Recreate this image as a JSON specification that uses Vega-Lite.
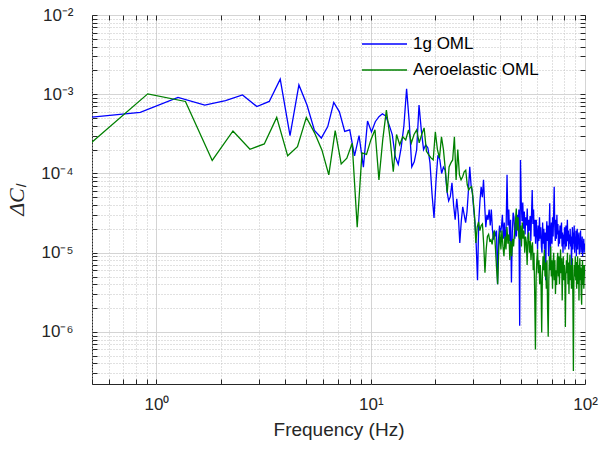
{
"$schema":"https://vega.github.io/schema/vega-lite/v6.json",
"width":493,"height":369,
"autosize":"none",
"padding":{"left":92,"top":15,"right":28,"bottom":75},
"background":"white",
"config":{"view":{"stroke":"#262626","strokeWidth":1},"axis":{"labelFont":"Liberation Sans","titleFont":"Liberation Sans","labelColor":"#262626","titleColor":"#262626"}},
"datasets":{
"blue":[{"f":0.42,"v":4.9e-4},{"f":0.84,"v":5.9e-4},{"f":1.26,"v":9.1e-4},{"f":1.68,"v":7.3e-4},{"f":2.1,"v":8.3e-4},{"f":2.52,"v":9.8e-4},{"f":2.94,"v":7.0e-4},{"f":3.36,"v":8.1e-4},{"f":3.78,"v":1.55e-3},{"f":4.2,"v":3.0e-4},{"f":4.62,"v":1.31e-3},{"f":5.04,"v":7.3e-4},{"f":5.46,"v":3.5e-4},{"f":5.88,"v":2.8e-4},{"f":6.3,"v":3.9e-4},{"f":6.72,"v":7.9e-4},{"f":7.14,"v":6.0e-4},{"f":7.56,"v":3.4e-4},{"f":7.98,"v":3.55e-4},{"f":8.4,"v":1.67e-4},{"f":8.82,"v":3.0e-4},{"f":9.24,"v":1.2e-4},{"f":9.66,"v":4.6e-4},{"f":10.08,"v":3.35e-4},{"f":10.5,"v":4.5e-4},{"f":10.92,"v":5.2e-4},{"f":11.34,"v":5.65e-4},{"f":11.76,"v":5.3e-4},{"f":12.18,"v":4.1e-4},{"f":12.6,"v":3.1e-4},{"f":13.02,"v":1.62e-4},{"f":13.44,"v":1.3e-4},{"f":13.86,"v":2.1e-4},{"f":14.28,"v":4.0e-4},{"f":14.7,"v":1.17e-3},{"f":15.12,"v":4.5e-4},{"f":15.54,"v":1.21e-4},{"f":15.96,"v":1.4e-4},{"f":16.38,"v":2.0e-4},{"f":16.8,"v":7.3e-4},{"f":17.22,"v":3.5e-4},{"f":17.64,"v":2.0e-4},{"f":18.06,"v":2.3e-4},{"f":18.48,"v":2.1e-4},{"f":18.9,"v":1.36e-4},{"f":19.32,"v":5.5e-5},{"f":19.74,"v":2.75e-5},{"f":20.16,"v":8.0e-5},{"f":20.58,"v":1.7e-4},{"f":21.0,"v":1.5e-4},{"f":21.42,"v":1.0e-4},{"f":21.84,"v":1.2e-4},{"f":22.26,"v":1.1e-4},{"f":22.68,"v":6.0e-5},{"f":23.1,"v":4.5e-5},{"f":23.52,"v":5.1e-5},{"f":23.94,"v":7.6e-5},{"f":24.36,"v":4.0e-5},{"f":24.78,"v":2.6e-5},{"f":25.2,"v":4.8e-5},{"f":25.62,"v":3.0e-5},{"f":26.04,"v":1.33e-5},{"f":26.46,"v":2.5e-5},{"f":26.88,"v":3.8e-5},{"f":27.3,"v":3.0e-5},{"f":27.72,"v":2.4e-5},{"f":28.14,"v":3.3e-5},{"f":28.56,"v":6.0e-5},{"f":28.98,"v":1.21e-4},{"f":29.4,"v":7.0e-5},{"f":29.82,"v":5.7e-5},{"f":30.24,"v":3.5e-5},{"f":30.66,"v":2.4e-5},{"f":31.08,"v":1.2e-5},{"f":31.5,"v":4.5e-6},{"f":31.92,"v":2.5e-5},{"f":32.34,"v":4.5e-5},{"f":32.76,"v":6.8e-5},{"f":33.18,"v":5.0e-5},{"f":33.6,"v":8.3e-5},{"f":34.02,"v":4.0e-5},{"f":34.44,"v":2.1e-5},{"f":34.86,"v":3.0e-5},{"f":35.28,"v":2.6e-5},{"f":35.7,"v":3.5e-5},{"f":36.12,"v":2.2e-5},{"f":36.54,"v":3.5e-5},{"f":36.96,"v":2.0e-5},{"f":37.38,"v":1.46e-5},{"f":37.8,"v":1.9e-5},{"f":38.22,"v":1.6e-5},{"f":38.64,"v":1.9e-5},{"f":39.06,"v":4.0e-6},{"f":39.48,"v":1.46e-5},{"f":39.9,"v":2.2e-5},{"f":40.32,"v":1.8e-5},{"f":40.74,"v":2.1e-5},{"f":41.16,"v":3.0e-5},{"f":41.58,"v":1.5e-5},{"f":42.0,"v":2.4e-5},{"f":42.42,"v":1.3e-5},{"f":42.84,"v":2.1e-5},{"f":43.26,"v":9.6e-5},{"f":43.68,"v":2.2e-5},{"f":44.1,"v":3.5e-5},{"f":44.52,"v":1.4e-5},{"f":44.94,"v":2.6e-5},{"f":45.36,"v":4.2e-6},{"f":45.78,"v":1.8e-5},{"f":46.2,"v":3.2e-5},{"f":46.62,"v":2.8e-5},{"f":47.04,"v":1.5e-5},{"f":47.46,"v":2.5e-5},{"f":47.88,"v":1.6e-5},{"f":48.3,"v":3.0e-5},{"f":48.72,"v":2.0e-5},{"f":49.14,"v":3.5e-5},{"f":49.56,"v":1.2e-6},{"f":49.98,"v":1.48e-4},{"f":50.4,"v":4.5e-5},{"f":50.82,"v":2.5e-5},{"f":51.24,"v":4.3e-5},{"f":51.66,"v":2.0e-5},{"f":52.08,"v":3.3e-5},{"f":52.5,"v":1.7e-5},{"f":52.92,"v":2.8e-5},{"f":53.34,"v":2.2e-5},{"f":53.76,"v":3.6e-5},{"f":54.18,"v":1.5e-5},{"f":54.6,"v":2.6e-5},{"f":55.02,"v":1.9e-5},{"f":55.44,"v":2.9e-5},{"f":55.86,"v":1.4e-5},{"f":56.28,"v":3.0e-5},{"f":56.7,"v":6.2e-5},{"f":57.12,"v":2.3e-5},{"f":57.54,"v":3.5e-5},{"f":57.96,"v":1.6e-5},{"f":58.38,"v":2.6e-5},{"f":58.8,"v":1.3e-5},{"f":59.22,"v":2.6e-5},{"f":59.64,"v":1.8e-5},{"f":60.06,"v":1.1e-5},{"f":60.48,"v":2.2e-5},{"f":60.9,"v":1.4e-5},{"f":61.32,"v":2.8e-5},{"f":61.74,"v":1.5e-5},{"f":62.16,"v":2.1e-5},{"f":62.58,"v":1.2e-5},{"f":63.0,"v":1.0e-5},{"f":63.42,"v":2.4e-5},{"f":63.84,"v":1.3e-5},{"f":64.26,"v":2.0e-5},{"f":64.68,"v":1.1e-5},{"f":65.1,"v":1.8e-5},{"f":65.52,"v":4.5e-6},{"f":65.94,"v":1.6e-5},{"f":66.36,"v":2.5e-5},{"f":66.78,"v":1.4e-5},{"f":67.2,"v":2.2e-5},{"f":67.62,"v":9.0e-6},{"f":68.04,"v":2.0e-5},{"f":68.46,"v":4.2e-5},{"f":68.88,"v":9.0e-6},{"f":69.3,"v":1.7e-5},{"f":69.72,"v":2.4e-5},{"f":70.14,"v":1.3e-5},{"f":70.56,"v":2.8e-5},{"f":70.98,"v":1.6e-5},{"f":71.4,"v":3.2e-5},{"f":71.82,"v":6.8e-5},{"f":72.24,"v":2.2e-5},{"f":72.66,"v":1.4e-5},{"f":73.08,"v":2.6e-5},{"f":73.5,"v":1.5e-5},{"f":73.92,"v":3.0e-5},{"f":74.34,"v":1.7e-5},{"f":74.76,"v":2.3e-5},{"f":75.18,"v":1.2e-5},{"f":75.6,"v":1.9e-5},{"f":76.02,"v":1.3e-5},{"f":76.44,"v":2.2e-5},{"f":76.86,"v":1.5e-5},{"f":77.28,"v":2.0e-5},{"f":77.7,"v":2.4e-5},{"f":78.12,"v":1.2e-5},{"f":78.54,"v":1.8e-5},{"f":78.96,"v":1.0e-5},{"f":79.38,"v":1.7e-5},{"f":79.8,"v":1.3e-5},{"f":80.22,"v":2.1e-5},{"f":80.64,"v":1.1e-5},{"f":81.06,"v":1.6e-5},{"f":81.48,"v":2.2e-5},{"f":81.9,"v":1.2e-5},{"f":82.32,"v":1.8e-5},{"f":82.74,"v":2.6e-5},{"f":83.16,"v":1.4e-5},{"f":83.58,"v":1.9e-5},{"f":84.0,"v":1.1e-5},{"f":84.42,"v":1.7e-5},{"f":84.84,"v":1.3e-5},{"f":85.26,"v":2.0e-5},{"f":85.68,"v":1.2e-5},{"f":86.1,"v":1.6e-5},{"f":86.52,"v":6.6e-6},{"f":86.94,"v":1.5e-5},{"f":87.36,"v":2.1e-5},{"f":87.78,"v":1.1e-5},{"f":88.2,"v":1.8e-5},{"f":88.62,"v":1.3e-5},{"f":89.04,"v":2.2e-5},{"f":89.46,"v":1.0e-5},{"f":89.88,"v":1.6e-5},{"f":90.3,"v":1.2e-5},{"f":90.72,"v":1.9e-5},{"f":91.14,"v":9.0e-6},{"f":91.56,"v":1.5e-5},{"f":91.98,"v":2.0e-5},{"f":92.4,"v":1.1e-5},{"f":92.82,"v":1.7e-5},{"f":93.24,"v":1.3e-5},{"f":93.66,"v":1.8e-5},{"f":94.08,"v":9.5e-6},{"f":94.5,"v":1.5e-5},{"f":94.92,"v":1.2e-5},{"f":95.34,"v":1.9e-5},{"f":95.76,"v":1.0e-5},{"f":96.18,"v":1.4e-5},{"f":96.6,"v":1.1e-5},{"f":97.02,"v":1.6e-5},{"f":97.44,"v":9.0e-6},{"f":97.86,"v":1.4e-5},{"f":98.28,"v":1.1e-5},{"f":98.7,"v":1.5e-5},{"f":99.12,"v":1.0e-5},{"f":99.54,"v":1.3e-5},{"f":99.96,"v":1.2e-5}],
"green":[{"f":0.455,"v":2.0e-4},{"f":0.91,"v":1.01e-3},{"f":1.365,"v":8.1e-4},{"f":1.82,"v":1.46e-4},{"f":2.275,"v":3.44e-4},{"f":2.73,"v":2.02e-4},{"f":3.185,"v":2.36e-4},{"f":3.64,"v":5.1e-4},{"f":4.095,"v":1.67e-4},{"f":4.55,"v":2.18e-4},{"f":5.005,"v":5.1e-4},{"f":5.46,"v":3.28e-4},{"f":5.915,"v":1.98e-4},{"f":6.37,"v":9.6e-5},{"f":6.825,"v":3.47e-4},{"f":7.28,"v":1.32e-4},{"f":7.735,"v":1.56e-4},{"f":8.19,"v":2.41e-4},{"f":8.645,"v":2.1e-5},{"f":9.1,"v":1.82e-4},{"f":9.555,"v":1.74e-4},{"f":10.01,"v":2.65e-4},{"f":10.465,"v":3.55e-4},{"f":10.92,"v":8.3e-5},{"f":11.375,"v":2.65e-4},{"f":11.83,"v":6.3e-4},{"f":12.285,"v":2.9e-4},{"f":12.74,"v":1.05e-4},{"f":13.195,"v":3.1e-4},{"f":13.65,"v":2.3e-4},{"f":14.105,"v":2.9e-4},{"f":14.56,"v":2.65e-4},{"f":15.015,"v":3.55e-4},{"f":15.47,"v":2.43e-4},{"f":15.925,"v":3.1e-4},{"f":16.38,"v":3.55e-4},{"f":16.835,"v":2.43e-4},{"f":17.29,"v":3.1e-4},{"f":17.745,"v":3.76e-4},{"f":18.2,"v":1.9e-4},{"f":18.655,"v":1.72e-4},{"f":19.11,"v":1.57e-4},{"f":19.565,"v":1.48e-4},{"f":20.02,"v":3.35e-4},{"f":20.475,"v":2.0e-4},{"f":20.93,"v":1.57e-4},{"f":21.385,"v":2.9e-4},{"f":21.84,"v":2.0e-4},{"f":22.295,"v":1.11e-4},{"f":22.75,"v":5.7e-5},{"f":23.205,"v":1.21e-4},{"f":23.66,"v":1.36e-4},{"f":24.115,"v":1.48e-4},{"f":24.57,"v":2.9e-4},{"f":25.025,"v":8.3e-5},{"f":25.48,"v":2.0e-4},{"f":25.935,"v":9.6e-5},{"f":26.39,"v":8.3e-5},{"f":26.845,"v":9.1e-5},{"f":27.3,"v":1.05e-4},{"f":27.755,"v":1.1e-4},{"f":28.21,"v":7.2e-5},{"f":28.665,"v":6.2e-5},{"f":29.12,"v":6.6e-5},{"f":29.575,"v":6.8e-5},{"f":30.03,"v":4.8e-5},{"f":30.485,"v":3.0e-5},{"f":30.94,"v":1.33e-5},{"f":31.395,"v":2.1e-5},{"f":31.85,"v":2.45e-5},{"f":32.305,"v":1.9e-5},{"f":32.76,"v":2.2e-5},{"f":33.215,"v":2.3e-5},{"f":33.67,"v":1.27e-5},{"f":34.125,"v":5.6e-6},{"f":34.58,"v":1.1e-5},{"f":35.035,"v":1.6e-5},{"f":35.49,"v":1.7e-5},{"f":35.945,"v":1.4e-5},{"f":36.4,"v":1.46e-5},{"f":36.855,"v":1.27e-5},{"f":37.31,"v":1.7e-5},{"f":37.765,"v":1.9e-5},{"f":38.22,"v":1.1e-5},{"f":38.675,"v":6.2e-6},{"f":39.13,"v":4.0e-6},{"f":39.585,"v":1.1e-5},{"f":40.04,"v":1.9e-5},{"f":40.495,"v":1.1e-5},{"f":40.95,"v":1.9e-5},{"f":41.405,"v":1.2e-5},{"f":41.86,"v":9.0e-6},{"f":42.315,"v":1.6e-5},{"f":42.77,"v":1.1e-5},{"f":43.225,"v":2.1e-5},{"f":43.68,"v":1.3e-5},{"f":44.135,"v":1.7e-5},{"f":44.59,"v":8.1e-6},{"f":45.045,"v":1.4e-5},{"f":45.5,"v":9.0e-6},{"f":45.955,"v":1.5e-5},{"f":46.41,"v":1.2e-5},{"f":46.865,"v":1.8e-5},{"f":47.32,"v":2.4e-5},{"f":47.775,"v":3.6e-5},{"f":48.23,"v":1.9e-5},{"f":48.685,"v":2.8e-5},{"f":49.14,"v":1.6e-5},{"f":49.595,"v":1.46e-5},{"f":50.05,"v":2.2e-5},{"f":50.505,"v":1.2e-5},{"f":50.96,"v":2.4e-5},{"f":51.415,"v":1.5e-5},{"f":51.87,"v":1.9e-5},{"f":52.325,"v":1.0e-5},{"f":52.78,"v":1.6e-5},{"f":53.235,"v":1.35e-5},{"f":53.69,"v":7.0e-6},{"f":54.145,"v":1.5e-5},{"f":54.6,"v":1.8e-5},{"f":55.055,"v":1.0e-5},{"f":55.51,"v":1.4e-5},{"f":55.965,"v":8.1e-6},{"f":56.42,"v":1.2e-5},{"f":56.875,"v":1.35e-5},{"f":57.33,"v":6.0e-6},{"f":57.785,"v":1.0e-5},{"f":58.24,"v":3.0e-6},{"f":58.695,"v":6.0e-7},{"f":59.15,"v":5.0e-6},{"f":59.605,"v":8.1e-6},{"f":60.06,"v":1.1e-5},{"f":60.515,"v":5.5e-6},{"f":60.97,"v":8.0e-6},{"f":61.425,"v":4.0e-6},{"f":61.88,"v":7.0e-6},{"f":62.335,"v":4.2e-6},{"f":62.79,"v":9.8e-7},{"f":63.245,"v":5.0e-6},{"f":63.7,"v":9.0e-6},{"f":64.155,"v":6.0e-6},{"f":64.61,"v":1.1e-5},{"f":65.065,"v":5.0e-6},{"f":65.52,"v":7.5e-6},{"f":65.975,"v":3.5e-6},{"f":66.43,"v":8.0e-6},{"f":66.885,"v":2.0e-6},{"f":67.34,"v":8.7e-7},{"f":67.795,"v":4.5e-6},{"f":68.25,"v":9.0e-6},{"f":68.705,"v":6.0e-6},{"f":69.16,"v":1.2e-5},{"f":69.615,"v":5.0e-6},{"f":70.07,"v":8.0e-6},{"f":70.525,"v":3.5e-6},{"f":70.98,"v":7.0e-6},{"f":71.435,"v":1.0e-5},{"f":71.89,"v":4.5e-6},{"f":72.345,"v":8.0e-6},{"f":72.8,"v":3.0e-6},{"f":73.255,"v":6.0e-6},{"f":73.71,"v":3.9e-6},{"f":74.165,"v":8.0e-6},{"f":74.62,"v":1.0e-5},{"f":75.075,"v":5.0e-6},{"f":75.53,"v":9.0e-6},{"f":75.985,"v":4.0e-6},{"f":76.44,"v":7.0e-6},{"f":76.895,"v":1.1e-5},{"f":77.35,"v":5.5e-6},{"f":77.805,"v":8.5e-6},{"f":78.26,"v":2.5e-6},{"f":78.715,"v":6.0e-6},{"f":79.17,"v":9.0e-6},{"f":79.625,"v":4.5e-6},{"f":80.08,"v":7.0e-6},{"f":80.535,"v":4.8e-6},{"f":80.99,"v":1.15e-6},{"f":81.445,"v":5.0e-6},{"f":81.9,"v":8.0e-6},{"f":82.355,"v":5.5e-6},{"f":82.81,"v":1.0e-5},{"f":83.265,"v":4.0e-6},{"f":83.72,"v":7.5e-6},{"f":84.175,"v":3.0e-6},{"f":84.63,"v":6.5e-6},{"f":85.085,"v":9.5e-6},{"f":85.54,"v":4.5e-6},{"f":85.995,"v":7.0e-6},{"f":86.45,"v":3.5e-6},{"f":86.905,"v":6.0e-6},{"f":87.36,"v":8.5e-6},{"f":87.815,"v":2.5e-6},{"f":88.27,"v":3.2e-7},{"f":88.725,"v":4.0e-6},{"f":89.18,"v":7.0e-6},{"f":89.635,"v":5.0e-6},{"f":90.09,"v":9.0e-6},{"f":90.545,"v":4.5e-6},{"f":91.0,"v":7.6e-6},{"f":91.455,"v":3.5e-6},{"f":91.91,"v":6.5e-6},{"f":92.365,"v":9.0e-6},{"f":92.82,"v":4.0e-6},{"f":93.275,"v":7.0e-6},{"f":93.73,"v":2.5e-6},{"f":94.185,"v":6.0e-6},{"f":94.64,"v":8.5e-6},{"f":95.095,"v":4.5e-6},{"f":95.55,"v":6.5e-6},{"f":96.005,"v":3.0e-6},{"f":96.46,"v":2.2e-6},{"f":96.915,"v":6.0e-6},{"f":97.37,"v":8.0e-6},{"f":97.825,"v":4.0e-6},{"f":98.28,"v":7.0e-6},{"f":98.735,"v":3.5e-6},{"f":99.19,"v":5.0e-6},{"f":99.645,"v":7.0e-6},{"f":100.1,"v":5.6e-6}]
},
"layer":[
{"layer":[
{"data":{"name":"blue"},"mark":{"type":"line","clip":true,"strokeWidth":1.3},
"encoding":{
"x":{"field":"f","type":"quantitative","scale":{"type":"log","domain":[0.5,100],"nice":false},
"axis":{"orient":"bottom","values":[0.5,0.6,0.7,0.8,0.9,1,2,3,4,5,6,7,8,9,10,20,30,40,50,60,70,80,90,100],
"labelExpr":"datum.value===1?'10⁰':datum.value===10?'10¹':datum.value===100?'10²':''",
"labelFlush":false,"labelOverlap":false,"labelFontSize":17,"labelPadding":17,"labelBaseline":"top",
"domain":false,"ticks":true,"tickSize":-5,"tickColor":"#262626","tickWidth":1,
"grid":true,"gridColor":{"condition":{"test":"datum.value===1||datum.value===10||datum.value===100","value":"#d4d4d4"},"value":"#c2c2c2"},
"gridDash":{"condition":{"test":"datum.value===1||datum.value===10||datum.value===100","value":[]},"value":[1,2]},
"title":"Frequency (Hz)","titleFontSize":19,"titleFontWeight":"normal","titlePadding":8}},
"y":{"field":"v","type":"quantitative","scale":{"type":"log","domain":[2.2e-7,0.01],"nice":false},
"axis":{"orient":"left","values":[3e-7,4e-7,5e-7,6e-7,7e-7,8e-7,9e-7,1e-6,2e-6,3e-6,4e-6,5e-6,6e-6,7e-6,8e-6,9e-6,1e-5,2e-5,3e-5,4e-5,5e-5,6e-5,7e-5,8e-5,9e-5,1e-4,2e-4,3e-4,4e-4,5e-4,6e-4,7e-4,8e-4,9e-4,1e-3,2e-3,3e-3,4e-3,5e-3,6e-3,7e-3,8e-3,9e-3,0.01],
"labelExpr":"datum.value===0.01?'10⁻²':datum.value===0.001?'10⁻³':datum.value===0.0001?'10⁻⁴':datum.value===0.00001?'10⁻⁵':datum.value===0.000001?'10⁻⁶':''",
"labelFlush":false,"labelOverlap":false,"labelFontSize":17,"labelPadding":24,
"domain":false,"ticks":true,"tickSize":-5,"tickColor":"#262626","tickWidth":1,
"grid":true,"gridColor":{"condition":{"test":"datum.value===0.01||datum.value===0.001||datum.value===0.0001||datum.value===0.00001||datum.value===0.000001","value":"#d4d4d4"},"value":"#c2c2c2"},
"gridDash":{"condition":{"test":"datum.value===0.01||datum.value===0.001||datum.value===0.0001||datum.value===0.00001||datum.value===0.000001","value":[]},"value":[1,2]},
"title":"ΔCₗ","titleFont":"Liberation Serif","titleFontStyle":"italic","titleFontSize":22,"titleFontWeight":"normal","titlePadding":12}},
"color":{"datum":"1g OML","type":"nominal","scale":{"domain":["1g OML","Aeroelastic OML"],"range":["#0000ff","#008000"]},
"legend":{"title":null,"orient":"none","legendX":269,"legendY":16,"padding":0,"symbolType":"stroke","symbolSize":2025,"symbolStrokeWidth":1.3,"labelFont":"Liberation Sans","labelFontSize":17,"labelColor":"#000000","labelOffset":5,"rowPadding":0,"clipHeight":26}}}},
{"data":{"name":"green"},"mark":{"type":"line","clip":true,"strokeWidth":1.3},
"encoding":{
"x":{"field":"f","type":"quantitative","scale":{"type":"log","domain":[0.5,100],"nice":false}},
"y":{"field":"v","type":"quantitative","scale":{"type":"log","domain":[2.2e-7,0.01],"nice":false}},
"color":{"datum":"Aeroelastic OML","type":"nominal"}}}
]},
{"data":{"name":"blue"},"mark":{"type":"point","opacity":0},
"encoding":{
"x":{"field":"f","type":"quantitative","scale":{"type":"log","domain":[0.5,100],"nice":false},
"axis":{"orient":"top","values":[0.5,0.6,0.7,0.8,0.9,1,2,3,4,5,6,7,8,9,10,20,30,40,50,60,70,80,90,100],"labels":false,"domain":false,"grid":false,"ticks":true,"tickSize":-5,"tickColor":"#262626","title":null}},
"y":{"field":"v","type":"quantitative","scale":{"type":"log","domain":[2.2e-7,0.01],"nice":false},
"axis":{"orient":"right","values":[3e-7,4e-7,5e-7,6e-7,7e-7,8e-7,9e-7,1e-6,2e-6,3e-6,4e-6,5e-6,6e-6,7e-6,8e-6,9e-6,1e-5,2e-5,3e-5,4e-5,5e-5,6e-5,7e-5,8e-5,9e-5,1e-4,2e-4,3e-4,4e-4,5e-4,6e-4,7e-4,8e-4,9e-4,1e-3,2e-3,3e-3,4e-3,5e-3,6e-3,7e-3,8e-3,9e-3,0.01],"labels":false,"domain":false,"grid":false,"ticks":true,"tickSize":-5,"tickColor":"#262626","title":null}}}}
],
"resolve":{"axis":{"x":"independent","y":"independent"}}
}
